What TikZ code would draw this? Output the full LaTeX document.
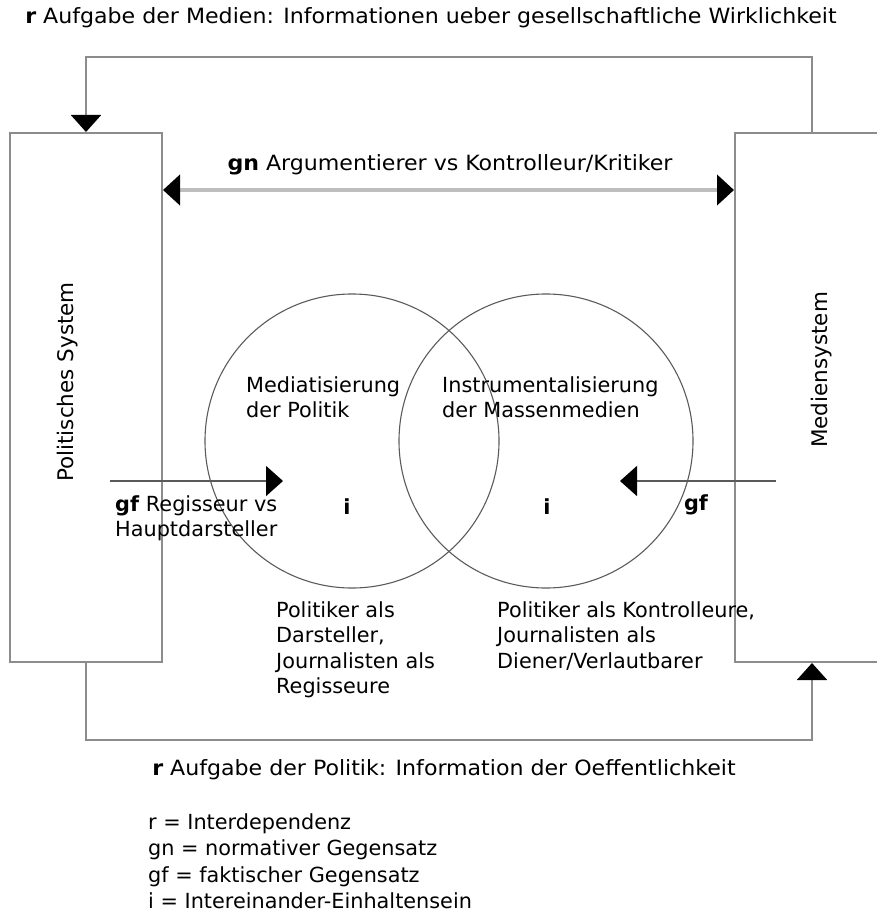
\documentclass[tikz,border=0pt]{standalone}
\usepackage{fontspec}
\setmainfont{DejaVu Sans}
\newfontfamily\condfont[FakeStretch=1.17]{DejaVu Sans Condensed}
\usetikzlibrary{arrows.meta}
\definecolor{framegray}{HTML}{8C8C8C}
\definecolor{ringgray}{HTML}{5A5A5A}
\definecolor{gngray}{HTML}{BEBEBE}
\tikzset{
  sysbox/.style={draw=framegray, line width=2pt, rectangle, inner sep=0pt},
  ring/.style={draw=ringgray, line width=1.1pt, circle, inner sep=0pt, minimum size=294pt},
  conn/.style={draw=framegray, line width=2pt},
  tip/.style={-{Triangle[length=17pt,width=30pt,color=black]}},
  bothtips/.style={{Triangle[length=17pt,width=30pt,color=black]}-{Triangle[length=17pt,width=30pt,color=black]}},
  gnline/.style={draw=gngray, line width=4.5pt},
  gfline/.style={draw=ringgray, line width=1.6pt},
  body/.style={font=\fontsize{20.8}{25.5}\selectfont, inner sep=0pt, align=left},
  bodybold/.style={font=\bfseries\fontsize{20.8}{25.5}\selectfont, inner sep=0pt},
  condlbl/.style={font=\condfont\fontsize{21}{25}\selectfont, inner sep=0pt},
}
\begin{document}
\begin{tikzpicture}[x=1pt,y=-1pt]
\useasboundingbox (0,0) rectangle (877,915);
\clip (0,0) rectangle (877,915);

% the two systems
\node[sysbox, minimum width=152pt, minimum height=529pt] (lbox) at (86,397.5) {};
\node[sysbox, minimum width=154pt, minimum height=529pt] (rbox) at (812,397.5) {};
\node[body, rotate=90, font=\fontsize{21.5}{25.5}\selectfont] (lname) at (68,382) {Politisches System};
\node[body, rotate=90, font=\fontsize{21.5}{25.5}\selectfont] (rname) at (822,370) {Mediensystem};

% interdependence loops
\draw[conn, tip] (rbox.north) -- ++(0,-75) -| (lbox.north);
\draw[conn, tip] (lbox.south) -- ++(0,77) -| (rbox.south);
\node[condlbl] (toplbl) at (431,18) {\textbf{r} Aufgabe der Medien: Informationen ueber gesellschaftliche Wirklichkeit};
\node[condlbl] (botlbl) at (444,770) {\textbf{r} Aufgabe der Politik: Information der Oeffentlichkeit};

% normative opposition
\coordinate (gny) at (0,190);
\draw[gnline, bothtips] (lbox.east |- gny) -- (rbox.west |- gny);
\node[condlbl] (gnlbl) at (450,165) {\textbf{gn} Argumentierer vs Kontrolleur/Kritiker};

% overlapping circles
\node[ring] (cL) at (352,441) {};
\node[ring] (cR) at (546,441) {};
\node[body, anchor=north west] (mtxt) at (246,376) {Mediatisierung\\der Politik};
\node[body, anchor=north west] (itxt) at (442,376) {Instrumentalisierung\\der Massenmedien};
\node[bodybold] (iL) at (347,507) {i};
\node[bodybold] (iR) at (547,507) {i};

% factual oppositions
\coordinate (gfLs) at (110,481);
\coordinate (gfLe) at (283,481);
\coordinate (gfRs) at (776,481);
\coordinate (gfRe) at (620,481);
\draw[gfline, tip] (gfLs) -- (gfLe);
\draw[gfline, tip] (gfRs) -- (gfRe);
\node[body, anchor=north west] (gftxt) at (115,495) {\textbf{gf} Regisseur vs\\Hauptdarsteller};
\node[bodybold] (gfR) at (696,505) {gf};

% roles
\node[body, anchor=north west] (roleL) at (276,601) {Politiker als\\Darsteller,\\Journalisten als\\Regisseure};
\node[body, anchor=north west] (roleR) at (497,601) {Politiker als Kontrolleure,\\Journalisten als\\Diener/Verlautbarer};

% legend
\node[body, anchor=north west, font=\fontsize{20.8}{26.5}\selectfont] (legend) at (148,813)
  {r = Interdependenz\\gn = normativer Gegensatz\\gf = faktischer Gegensatz\\i = Intereinander-Einhaltensein};
\end{tikzpicture}
\end{document}
